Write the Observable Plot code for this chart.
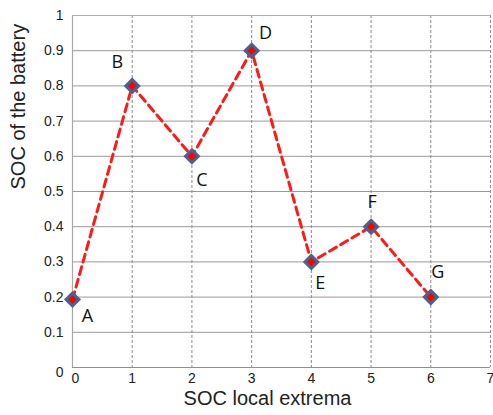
<!DOCTYPE html>
<html>
<head>
<meta charset="utf-8">
<script src="https://cdn.jsdelivr.net/npm/d3@7"></script>
<script src="https://cdn.jsdelivr.net/npm/@observablehq/plot@0.6"></script>
<style>
  html, body { margin: 0; padding: 0; background: #fff; }
</style>
</head>
<body>
<div id="chart"></div>
<script>
const steps = [0, 1, 2, 3, 4, 5, 6];
const soc = [0.193, 0.8, 0.6, 0.9, 0.3, 0.4, 0.2];
const pointNames = ["A", "B", "C", "D", "E", "F", "G"];
const xTicks = [0, 1, 2, 3, 4, 5, 6, 7];
const yTicks = [0, 0.1, 0.2, 0.3, 0.4, 0.5, 0.6, 0.7, 0.8, 0.9, 1];
const xLabel = "SOC local extrema";
const yLabel = "SOC of the battery";

// label placement offsets (style, not data)
const labelOffsets = {A: [15, 17], B: [-15, -24], C: [10, 24], D: [14, -17], E: [9, 21], F: [1, -24], G: [7, -25]};

const data = steps.map((s, i) => ({x: s, y: soc[i], name: pointNames[i]}));

const labelMarks = data.map(d => Plot.text([d], {
  x: "x", y: "y", text: "name",
  dx: labelOffsets[d.name][0], dy: labelOffsets[d.name][1],
  fontSize: 18, fontFamily: "Open Sans", fill: "#111"
}));

const fmt = d => String(d);

const chart = Plot.plot({
  width: 493,
  height: 415,
  marginLeft: 72,
  marginRight: 3,
  marginTop: 15,
  marginBottom: 48,
  style: {fontFamily: "Liberation Sans, Arial, sans-serif", fontSize: "14px", color: "#222", background: "#fff"},
  x: {domain: [0, 7], label: null},
  y: {domain: [0, 1], label: null},
  marks: [
    Plot.ruleY(yTicks.filter(v => v > 0 && v < 1), {stroke: "#9a9a9a", strokeWidth: 1}),
    Plot.ruleX(xTicks.filter(v => v > 0 && v < 7), {stroke: "#8a8a8a", strokeWidth: 1, strokeDasharray: "3,2"}),
    Plot.ruleY([1], {stroke: "#b0b0b0", strokeWidth: 1}),
    Plot.ruleX([7], {stroke: "#909090", strokeWidth: 1, strokeDasharray: "3,2"}),
    Plot.ruleY([0], {stroke: "#909090", strokeWidth: 1.2}),
    Plot.ruleX([0], {stroke: "#a8a8a8", strokeWidth: 1.2}),
    Plot.axisX({ticks: xTicks.filter(v => v > 0), tickFormat: fmt, tickSize: 0, tickPadding: 6, fontSize: 14, label: null}),
    Plot.axisX({ticks: [0], tickFormat: fmt, tickSize: 0, tickPadding: 6, dx: 3, fontSize: 14, label: null}),
    Plot.axisY({ticks: yTicks.filter(v => v > 0), tickFormat: fmt, tickSize: 0, tickPadding: 9, fontSize: 14, label: null}),
    Plot.axisY({ticks: [0], tickFormat: fmt, tickSize: 0, tickPadding: 9, dy: 5, fontSize: 14, label: null}),
    Plot.line(data, {x: "x", y: "y", stroke: "#ff1a1a", strokeWidth: 3, strokeDasharray: "8,5"}),
    Plot.dot(data, {x: "x", y: "y", symbol: "diamond2", r: 5.8, fill: "#ff0000", stroke: "#44658f", strokeWidth: 3}),
    ...labelMarks,
    Plot.text([xLabel], {frameAnchor: "bottom", dx: -14, dy: 37, fontSize: 20, fill: "#222"}),
    Plot.text([yLabel], {frameAnchor: "left", dx: -54, dy: -2, rotate: -90, fontSize: 20, fill: "#222"})
  ]
});
document.getElementById("chart").appendChild(chart);
</script>
</body>
</html>
